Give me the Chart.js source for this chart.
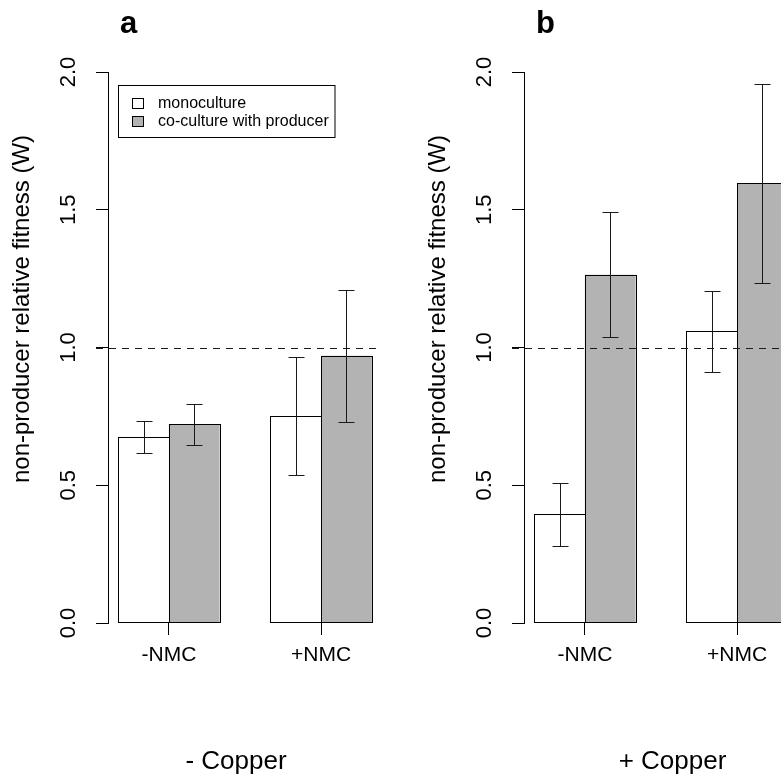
<!DOCTYPE html>
<html>
<head>
<meta charset="utf-8">
<title>non-producer relative fitness</title>
<script src="https://cdn.jsdelivr.net/npm/chart.js@4.4.1/dist/chart.umd.min.js"></script>
<style>
  html, body { margin: 0; padding: 0; background: #fff; overflow: hidden; }
  #wrap { position: relative; width: 781px; height: 778px; overflow: hidden; }
  .panel { position: absolute; top: 0; width: 400px; height: 778px; }
</style>
</head>
<body>
<div id="wrap">
  <div class="panel" style="left:0"><canvas id="chartA"></canvas></div>
  <div class="panel" style="left:416px"><canvas id="chartB"></canvas></div>
</div>
<script>
// 데이터
const groupLabels = ['-NMC', '+NMC'];
const seriesNames = ['monoculture', 'co-culture with producer'];
const yTickValues = [0, 0.5, 1, 1.5, 2];
const refLine = 1.0;

// a: - Copper
const monoA = [0.674, 0.753];
const monoLowA = [0.617, 0.538];
const monoHighA = [0.732, 0.966];
const coA = [0.722, 0.970];
const coLowA = [0.645, 0.730];
const coHighA = [0.796, 1.210];

// b: + Copper
const monoB = [0.395, 1.059];
const monoLowB = [0.281, 0.911];
const monoHighB = [0.509, 1.205];
const coB = [1.264, 1.596];
const coLowB = [1.039, 1.235];
const coHighB = [1.491, 1.957];

// 레이아웃 (barplot 좌표: 그룹 중심 2, 5 / 범위 0.8 ~ 6.2)
const groupPos = [2, 5];
const FONT = "'Liberation Sans', Arial, sans-serif";
const GREY = '#b3b3b3';

// 막대 테두리, 오차 막대, 기준선
const errorBarPlugin = {
    id: 'errorBars',
    afterDatasetsDraw(chart) {
        const ctx = chart.ctx;
        const y = chart.scales.y;
        ctx.save();
        ctx.lineWidth = 1;

        // 막대 테두리 (픽셀에 맞춰 1px 검정)
        ctx.strokeStyle = '#000';
        chart.data.datasets.forEach((ds, i) => {
            chart.getDatasetMeta(i).data.forEach(bar => {
                const left = Math.round(bar.x - bar.width / 2) + 0.5;
                const right = Math.round(bar.x + bar.width / 2) + 0.5;
                const top = Math.round(bar.y) + 0.5;
                const bottom = Math.round(bar.base) - 0.5;
                ctx.strokeRect(left, top, right - left, bottom - top);
            });
        });

        ctx.strokeStyle = '#1a1a1a';
        chart.data.datasets.forEach((ds, i) => {
            chart.getDatasetMeta(i).data.forEach((bar, j) => {
                const x = Math.round(bar.x) + 0.5;
                const top = Math.round(y.getPixelForValue(ds.errHigh[j])) + 0.5;
                const bot = Math.round(y.getPixelForValue(ds.errLow[j])) + 0.5;
                ctx.beginPath();
                ctx.moveTo(x, top); ctx.lineTo(x, bot);
                ctx.moveTo(x - 8, top); ctx.lineTo(x + 8, top);
                ctx.moveTo(x - 8, bot); ctx.lineTo(x + 8, bot);
                ctx.stroke();
            });
        });

        const ry = Math.round(y.getPixelForValue(refLine)) + 0.5;
        ctx.setLineDash([7, 6]);
        ctx.beginPath();
        ctx.moveTo(chart.chartArea.left - 12, ry);
        ctx.lineTo(chart.chartArea.right, ry);
        ctx.stroke();
        ctx.restore();
    }
};

// 패널 문자, 축 제목, 범례
const labelPlugin = {
    id: 'panelText',
    afterDraw(chart, args, opts) {
        const ctx = chart.ctx;
        ctx.save();
        ctx.fillStyle = '#000';

        ctx.font = `bold 31px ${FONT}`;
        ctx.textAlign = 'left';
        ctx.textBaseline = 'alphabetic';
        ctx.fillText(opts.letter, 120, 33);

        ctx.font = `26px ${FONT}`;
        ctx.textAlign = 'center';
        ctx.fillText(opts.xTitle, opts.xTitleX, 769);

        ctx.save();
        ctx.translate(22, 309);
        ctx.rotate(-Math.PI / 2);
        ctx.font = `24px ${FONT}`;
        ctx.textBaseline = 'middle';
        ctx.fillText('non-producer relative fitness (W)', 0, 0);
        ctx.restore();

        if (opts.legend) {
            ctx.lineWidth = 1;
            ctx.strokeStyle = '#000';
            ctx.strokeRect(118.5, 85.5, 216.5, 52);
            ctx.font = `16px ${FONT}`;
            ctx.textAlign = 'left';
            chart.data.datasets.forEach((ds, i) => {
                const top = 98.5 + i * 18;
                ctx.fillStyle = ds.backgroundColor;
                ctx.fillRect(132.5, top, 11, 10);
                ctx.strokeStyle = '#000';
                ctx.strokeRect(132.5, top, 11, 10);
                ctx.fillStyle = '#000';
                ctx.fillText(ds.label, 158, top + 9.5);
            });
        }
        ctx.restore();
    }
};

function makeChart(canvasId, mono, monoLow, monoHigh, co, coLow, coHigh, text) {
    const ctx = document.getElementById(canvasId).getContext('2d');
    return new Chart(ctx, {
        type: 'bar',
        data: {
            datasets: [
                {
                    label: seriesNames[0],
                    data: mono.map((v, i) => ({ x: groupPos[i], y: v })),
                    errLow: monoLow,
                    errHigh: monoHigh,
                    backgroundColor: '#ffffff',
                    borderWidth: 0,
                    inflateAmount: 0
                },
                {
                    label: seriesNames[1],
                    data: co.map((v, i) => ({ x: groupPos[i], y: v })),
                    errLow: coLow,
                    errHigh: coHigh,
                    backgroundColor: GREY,
                    borderWidth: 0,
                    inflateAmount: 0
                }
            ]
        },
        options: {
            responsive: true,
            maintainAspectRatio: false,
            animation: false,
            categoryPercentage: 2 / 3,
            barPercentage: 1,
            layout: { padding: { left: 0, top: 72, right: 18, bottom: 95 } },
            plugins: {
                legend: { display: false },
                tooltip: { enabled: false },
                panelText: text
            },
            scales: {
                x: {
                    type: 'linear',
                    min: 0.8,
                    max: 6.2,
                    offset: false,
                    afterBuildTicks: scale => {
                        scale.ticks = groupPos.map(v => ({ value: v }));
                    },
                    afterFit: scale => { scale.height = 60; },
                    ticks: {
                        callback: (value, index) => groupLabels[index],
                        maxRotation: 0,
                        padding: 8,
                        color: '#000',
                        font: { family: FONT, size: 21 }
                    },
                    grid: {
                        offset: false,
                        drawOnChartArea: false,
                        tickLength: 12,
                        color: '#000'
                    },
                    border: { display: false }
                },
                y: {
                    min: 0,
                    max: 2,
                    afterBuildTicks: scale => {
                        scale.ticks = yTickValues.map(v => ({ value: v }));
                    },
                    afterFit: scale => { scale.width = 108; },
                    ticks: {
                        callback: value => value.toFixed(1),
                        minRotation: 90,
                        maxRotation: 90,
                        crossAlign: 'center',
                        padding: 12,
                        color: '#000',
                        font: { family: FONT, size: 22 }
                    },
                    grid: {
                        drawOnChartArea: false,
                        tickLength: 12,
                        color: '#000'
                    },
                    border: { display: true, color: '#000', width: 1 }
                }
            }
        },
        plugins: [errorBarPlugin, labelPlugin]
    });
}

makeChart('chartA', monoA, monoLowA, monoHighA, coA, coLowA, coHighA,
    { letter: 'a', xTitle: '- Copper', xTitleX: 236, legend: true });
makeChart('chartB', monoB, monoLowB, monoHighB, coB, coLowB, coHighB,
    { letter: 'b', xTitle: '+ Copper', xTitleX: 256.5, legend: false });
</script>
</body>
</html>
